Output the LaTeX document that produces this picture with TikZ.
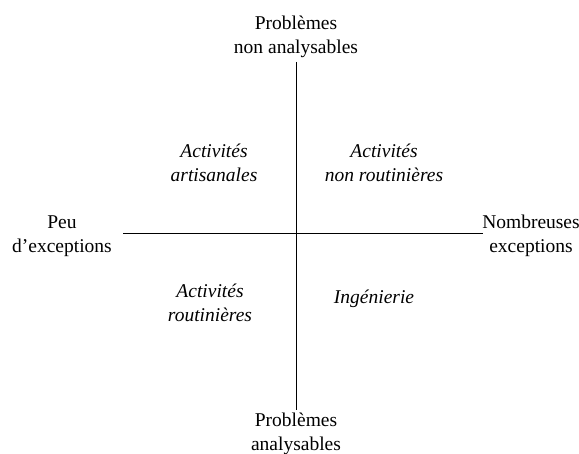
\documentclass[tikz,border=0pt]{standalone}
\usepackage{fontspec}
\setmainfont{Liberation Serif}
\begin{document}
\begin{tikzpicture}[x=1pt,y=-1pt,
  lbl/.style={inner sep=0pt,align=center,anchor=base,font=\fontsize{19.5}{24}\selectfont},
  ilbl/.style={lbl,font=\fontsize{19.5}{24}\selectfont\itshape},
  axis/.style={line width=0.8pt}]
\useasboundingbox (0,0) rectangle (579,454);
\coordinate (top) at (296,62);
\coordinate (bot) at (296,410);
\coordinate (lft) at (123,233);
\coordinate (rgt) at (483,233);
\draw[axis] (top) -- (bot);
\draw[axis] (lft) -- (rgt);
\node[lbl] (ptop) at (296,54) {Problèmes\\non analysables};
\node[lbl] (pbot) at (296,451) {Problèmes\\analysables};
\node[lbl] (peu) at (62,253) {Peu\\d’exceptions};
\node[lbl] (nomb) at (531,253) {Nombreuses\\exceptions};
\node[ilbl] (art) at (214,182) {Activités\\artisanales};
\node[ilbl] (nonr) at (384,182) {Activités\\non routinières};
\node[ilbl] (rout) at (210,322) {Activités\\routinières};
\node[ilbl] (ing) at (374,304) {Ingénierie};
\end{tikzpicture}
\end{document}
